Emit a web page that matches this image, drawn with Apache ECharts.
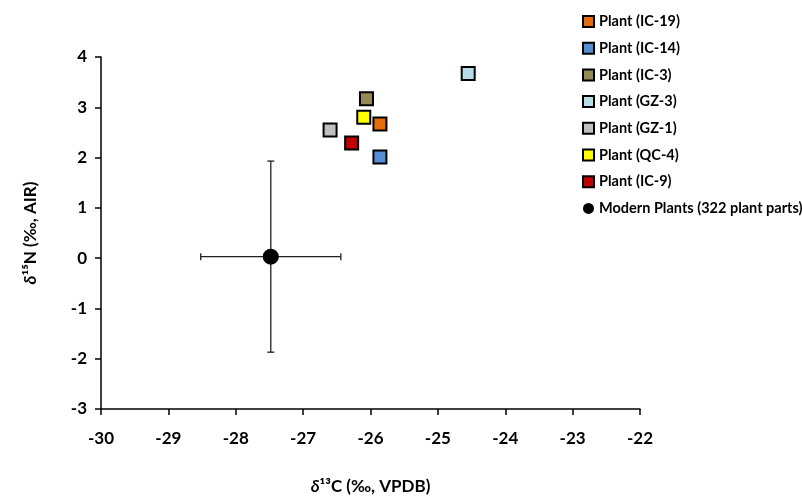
<!DOCTYPE html>
<html><head><meta charset="utf-8">
<script src="https://cdn.jsdelivr.net/npm/echarts@6/dist/echarts.min.js"></script>
<style>html,body{margin:0;padding:0;background:#fff}#c{width:802px;height:499px}</style>
</head><body><div id="c"></div>
<script>
const plantNames = ['Plant (IC-19)','Plant (IC-14)','Plant (IC-3)','Plant (GZ-3)','Plant (GZ-1)','Plant (QC-4)','Plant (IC-9)'];
const plantD13C = [-25.86, -25.86, -26.06, -24.55, -26.6, -26.1, -26.28];
const plantD15N = [2.67, 2.01, 3.17, 3.67, 2.55, 2.8, 2.29];
const plantColors = ['#E46C0A','#558ED5','#948A54','#B7DEE8','#BFBFBF','#FFFF00','#C00000'];
const modernName = 'Modern Plants (322 plant parts)';
const modernMean = [-27.48, 0.03];
const modernSD = [1.04, 1.9];
const xTicks = [-30,-29,-28,-27,-26,-25,-24,-23,-22];
const yTicks = [-3,-2,-1,0,1,2,3,4];

const font = 'Lato';
const series = plantNames.map((n,i)=>({
  name:n, type:'scatter', symbol:'rect', symbolSize:13, z:5,
  itemStyle:{color:plantColors[i], borderColor:'#000', borderWidth:2, opacity:1},
  data:[[plantD13C[i], plantD15N[i]]]
}));
series.push({
  name:'errbar', type:'custom', z:3, silent:true,
  renderItem:function(params, api){
    const l = api.coord([modernMean[0]-modernSD[0], modernMean[1]]);
    const r = api.coord([modernMean[0]+modernSD[0], modernMean[1]]);
    const t = api.coord([modernMean[0], modernMean[1]+modernSD[1]]);
    const b = api.coord([modernMean[0], modernMean[1]-modernSD[1]]);
    const st = {stroke:'#222', lineWidth:1.3};
    const cap = 3.5;
    return {type:'group', children:[
      {type:'line', shape:{x1:l[0],y1:l[1],x2:r[0],y2:r[1]}, style:st},
      {type:'line', shape:{x1:t[0],y1:t[1],x2:b[0],y2:b[1]}, style:st},
      {type:'line', shape:{x1:l[0],y1:l[1]-cap,x2:l[0],y2:l[1]+cap}, style:st},
      {type:'line', shape:{x1:r[0],y1:r[1]-cap,x2:r[0],y2:r[1]+cap}, style:st},
      {type:'line', shape:{x1:t[0]-cap,y1:t[1],x2:t[0]+cap,y2:t[1]}, style:st},
      {type:'line', shape:{x1:b[0]-cap,y1:b[1],x2:b[0]+cap,y2:b[1]}, style:st}
    ]};
  },
  data:[[modernMean[0], modernMean[1]]]
});
series.push({
  name:modernName, type:'scatter', symbol:'circle', symbolSize:16, z:6,
  itemStyle:{color:'#000', opacity:1},
  data:[modernMean]
});

const nameStyle = {fontFamily:font, fontWeight:'bold', fontSize:17, color:'#000',
  rich:{i:{fontFamily:font, fontWeight:'bold', fontStyle:'italic', fontSize:17, color:'#000'}}};

const chart = echarts.init(document.getElementById('c'), null, {renderer:'canvas'});
chart.setOption({
  animation:false,
  backgroundColor:'#fff',
  grid:{left:101, right:162, top:57, bottom:90, containLabel:false, outerBoundsMode:'none'},
  legend:{
    data:[...plantNames, modernName].map(n=>({name:n})),
    orient:'vertical', left:580, top:12, itemGap:11.7,
    itemWidth:11, itemHeight:11, padding:[2,0,0,2],
    textStyle:{fontFamily:font, fontWeight:'bold', fontSize:14.5, color:'#000'},
    selectedMode:false
  },
  xAxis:{
    type:'value', min:xTicks[0], max:xTicks[xTicks.length-1], interval:1,
    splitLine:{show:false},
    axisLine:{onZero:false, lineStyle:{color:'#000', width:1.5}},
    axisTick:{show:true, length:6, lineStyle:{color:'#000', width:1.5}},
    axisLabel:{margin:21, fontFamily:font, fontWeight:'bold', fontSize:17, color:'#000'},
    name:'{i|δ}¹³C (‰, VPDB)', nameLocation:'middle', nameGap:69,
    nameTextStyle:nameStyle
  },
  yAxis:{
    type:'value', min:yTicks[0], max:yTicks[yTicks.length-1], interval:1,
    splitLine:{show:false},
    axisLine:{onZero:false, lineStyle:{color:'#000', width:1.5}},
    axisTick:{show:true, length:6, lineStyle:{color:'#000', width:1.5}},
    axisLabel:{margin:14, fontFamily:font, fontWeight:'bold', fontSize:17, color:'#000'},
    name:'{i|δ}¹⁵N (‰, AIR)', nameLocation:'middle', nameGap:62, nameRotate:90,
    nameTextStyle:nameStyle
  },
  series:series
});
</script></body></html>
